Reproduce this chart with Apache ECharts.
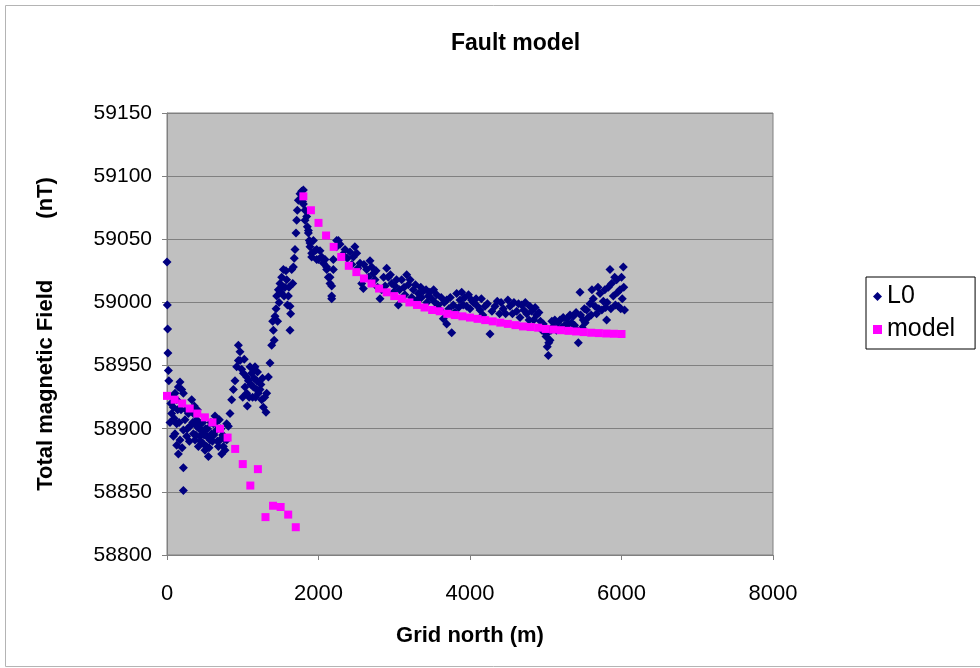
<!DOCTYPE html>
<html><head><meta charset="utf-8">
<script src="https://cdn.jsdelivr.net/npm/echarts@6/dist/echarts.min.js"></script>
<style>html,body{margin:0;padding:0;background:#fff}#c{width:980px;height:668px}</style>
</head><body><div id="c"></div>
<script>
const titleText = 'Fault model';
const xName = 'Grid north (m)';
const yName = 'Total magnetic Field          (nT)';
const seriesNames = ['L0', 'model'];
const xMin = 0, xMax = 8000, xStep = 2000;
const yMin = 58800, yMax = 59150, yStep = 50;

// L0 observed data [grid north (m), total field (nT)]
const l0Points = [
[0,59032],[4,58998],[8,58979],[12,58960],[18,58946],[24,58938],
[40,58905],[50,58920],[62,58912],[70,58925],[84,58917],[84,58894],[95,58908],[106,58928],[106,58896],
[128,58923],[128,58887],[128,58904],[140,58915],[150,58933],[150,58880],[160,58905],[172,58937],[172,58891],
[185,58915],[194,58931],[200,58885],[216,58928],[216,58869],[216,58851],[216,58899],
[238,58907],[250,58915],[260,58894],[270,58900],[282,58912],[295,58890],[304,58902],[315,58915],[326,58923],
[340,58905],[348,58912],[348,58896],[360,58918],[370,58891],[380,58895],[392,58902],[392,58907],[400,58915],
[414,58886],[425,58900],[436,58894],[436,58904],[445,58890],[458,58899],[470,58905],[480,58888],[480,58896],
[490,58895],[502,58883],[510,58900],[524,58894],[524,58886],[535,58900],[546,58878],[555,58885],[568,58891],
[580,58905],[590,58896],[600,58890],[612,58904],[620,58895],[634,58910],[645,58905],[656,58899],[665,58890],
[678,58886],[691,58907],[700,58891],[710,58900],[722,58880],[735,58895],[744,58886],[755,58892],
[766,58883],[788,58891],[788,58904],[810,58902],[832,58912],[854,58923],[876,58931],[898,58938],[920,58949],
[942,58954],[942,58966],[964,58961],[964,58954],
[986,58947],[1000,58925],[1008,58944],[1020,58955],[1030,58933],[1052,58928],[1052,58941],[1060,58918],
[1074,58938],[1085,58925],[1096,58949],[1110,58935],[1118,58944],[1130,58925],[1140,58947],[1140,58933],
[1150,58940],[1162,58949],[1170,58925],[1184,58938],[1184,58931],[1195,58945],[1206,58928],[1228,58931],
[1240,58935],[1250,58923],[1260,58940],[1272,58917],[1290,58925],[1307,58913],[1316,58928],[1338,58941],[1360,58952],
[1382,58966],[1395,58985],[1404,58978],[1415,58970],[1426,58989],[1440,58995],[1448,59005],[1460,58985],
[1470,59010],[1480,59000],[1492,59015],[1505,59008],[1514,59020],[1525,59012],[1536,59026],[1545,59005],
[1558,59012],[1570,59025],[1580,59018],[1590,58998],[1602,59005],[1610,59012],[1624,58997],[1632,58991],
[1624,58978],[1646,59026],[1660,59015],[1668,59028],[1680,59035],[1690,59042],[1703,59055],[1712,59065],
[1720,59073],[1734,59081],[1756,59086],[1778,59088],
[1790,59080],[1800,59078],[1800,59089],[1822,59073],[1822,59065],[1844,59068],[1852,59060],[1866,59057],[1866,59055],
[1879,59049],[1888,59047],[1888,59044],[1910,59039],[1910,59036],[1932,59049],[1954,59041],[1976,59034],
[1976,59042],[1998,59034],[2020,59041],[2042,59036],[2064,59031],[2064,59034],[2086,59034],[2108,59026],
[2108,59028],[2130,59020],[2152,59015],[2152,59020],[2174,59005],[2174,59013],[2174,59003],[2196,59034],
[2196,59026],[2240,59044],[2240,59049],[2262,59049],[2284,59046],
[2320,59038],[2350,59042],[2380,59035],[2416,59040],[2440,59030],[2460,59036],[2480,59044],[2504,59039],
[2520,59027],[2548,59031],[2570,59015],[2592,59011],[2600,59030],[2636,59026],[2660,59020],[2680,59033],
[2702,59028],[2724,59023],[2746,59018],[2760,59025],[2780,59012],[2812,59003],[2834,59010],[2860,59020],
[2880,59013],[2900,59027],[2922,59020],[2950,59022],[2966,59015],[2990,59008],[3010,59013],[3030,59018],
[3054,58998],[3070,59010],[3098,59018],[3130,59012],[3140,59006],[3164,59022],[3186,59014],[3210,59018],
[3230,59004],[3252,59010],[3280,59014],[3300,59002],[3318,59007],[3350,59012],[3360,59004],[3384,59009],
[3420,59010],[3430,59000],[3450,59005],[3470,59008],[3494,59003],[3520,59010],[3540,59000],[3560,59006],
[3580,58998],[3604,58994],[3620,59004],[3648,58987],[3660,59000],[3692,58983],[3692,59002],[3720,58995],
[3740,59004],[3758,58976],[3780,58998],[3800,58992],[3824,59007],[3850,58996],[3868,59002],[3890,59008],
[3910,58998],[3930,59004],[3956,58997],[3980,59006],[4000,58995],[4020,59002],[4044,59000],[4080,59003],
[4100,58997],[4132,58994],
[4150,59003],[4170,58990],[4198,58997],[4230,58999],[4264,58975],[4290,58993],[4330,58997],[4360,59001],
[4390,58991],[4410,59000],[4440,58995],[4470,58991],[4500,59002],[4528,58997],[4560,58991],[4580,59000],
[4616,58993],[4640,58999],[4660,58988],[4682,58998],[4710,58994],[4730,59000],[4748,58991],[4780,58986],
[4790,58997],[4814,58993],[4840,58986],[4860,58996],[4880,58990],[4910,58992],[4930,58985],[4950,58978],
[4968,58983],[4990,58980],[5003,58973],[5010,58975],[5020,58965],[5034,58958],[5040,58968],[5056,58970],
[5070,58978],[5080,58985],[5100,58981],[5120,58986],[5140,58978],[5160,58984],[5188,58986],[5210,58980],
[5230,58988],[5250,58982],[5276,58987],[5300,58983],[5320,58990],[5340,58984],[5364,58989],[5380,58982],
[5400,58992],[5410,58978],[5430,58968],[5452,59008],[5460,58990],[5480,58980],[5496,58986],[5510,58995],
[5520,58984],[5540,58994],[5560,58988],[5584,58999],[5600,58990],[5610,59010],[5628,59003],[5650,58997],
[5672,58991],[5690,59012],[5700,58995],[5716,59007],[5740,58994],[5760,59001],[5780,59010],[5790,58996],
[5804,58986],[5810,59000],[5826,59012],[5848,59026],[5860,58995],[5870,59015],[5892,59005],[5910,59020],
[5920,58998],[5936,59018],[5950,59008],[5958,58997],[5980,59010],[5990,58995],[6000,59020],[6010,59003],
[6024,59028],[6030,59012],[6040,58994]
];

// Model values every 100 m
const modelX = [0,100,200,300,400,500,600,700,800,900,1000,1100,1200,1300,1400,1500,1600,1700,
1800,1900,2000,2100,2200,2300,2400,2500,2600,2700,2800,2900,3000,3100,3200,3300,3400,3500,3600,3700,3800,3900,
4000,4100,4200,4300,4400,4500,4600,4700,4800,4900,5000,5100,5200,5300,5400,5500,5600,5700,5800,5900,6000];
const modelY = [58926,58923,58920,58916,58912,58909,58905,58900,58893,58884,58872,58855,58868,58830,58839,58838,58832,58822,
59084,59073,59063,59053,59044,59036,59029,59024,59019,59015,59011,59008,59005,59003,59000,58998,58996,58994,58993,58991,58990,58989,
58988,58987,58986,58985,58984,58983,58982,58981,58980.5,58980,58979,58978.5,58978,58977.5,58977,58976.5,58976,58975.7,58975.4,58975.2,58975];

const FONT = "'Liberation Sans', Arial, sans-serif";
const plain = v => String(v);
const chart = echarts.init(document.getElementById('c'), null, {renderer: 'canvas'});
chart.setOption({
  animation: false,
  backgroundColor: '#ffffff',
  graphic: [{
    type: 'rect', left: 3, top: 3, z: -10,
    shape: {x: 0, y: 0, width: 1000, height: 661},
    style: {fill: 'none', stroke: '#b4b4b4', lineWidth: 1}
  }],
  title: {
    text: titleText, left: 446, top: 27,
    textStyle: {fontFamily: FONT, fontSize: 23, fontWeight: 'bold', color: '#000'}
  },
  legend: {
    orient: 'vertical', left: 866, top: 277,
    padding: [7, 20, 7, 7], itemGap: 8,
    borderColor: '#000', borderWidth: 1,
    itemWidth: 9, itemHeight: 9,
    textStyle: {fontFamily: FONT, fontSize: 25, color: '#000'},
    data: [{name: seriesNames[0], icon: 'diamond'}, {name: seriesNames[1], icon: 'rect'}]
  },
  grid: {
    left: 167, top: 113, width: 606, height: 442,
    show: true, backgroundColor: '#c0c0c0', borderColor: '#808080', borderWidth: 1
  },
  xAxis: {
    type: 'value', min: xMin, max: xMax, interval: xStep,
    name: xName, nameLocation: 'middle', nameGap: 70,
    nameTextStyle: {fontFamily: FONT, fontSize: 22, fontWeight: 'bold', color: '#000'},
    axisLine: {show: true, onZero: false, lineStyle: {color: '#808080'}},
    axisTick: {show: true, inside: false, length: 5, lineStyle: {color: '#808080'}},
    axisLabel: {margin: 28, fontFamily: FONT, fontSize: 22, color: '#000', formatter: plain},
    splitLine: {show: false}
  },
  yAxis: {
    type: 'value', min: yMin, max: yMax, interval: yStep,
    name: yName, nameLocation: 'middle', nameGap: 110, nameRotate: 90,
    nameTextStyle: {fontFamily: FONT, fontSize: 22, fontWeight: 'bold', color: '#000'},
    axisLine: {show: true, onZero: false, lineStyle: {color: '#808080'}},
    axisTick: {show: true, inside: false, length: 5, lineStyle: {color: '#808080'}},
    axisLabel: {margin: 15, fontFamily: FONT, fontSize: 21, color: '#000', formatter: plain},
    splitLine: {show: true, lineStyle: {color: '#808080', width: 1}}
  },
  series: [
    {
      name: seriesNames[0], type: 'scatter', symbol: 'diamond', symbolSize: 9,
      itemStyle: {color: '#000080', opacity: 1},
      data: l0Points
    },
    {
      name: seriesNames[1], type: 'scatter', symbol: 'rect', symbolSize: 8,
      itemStyle: {color: '#ff00ff', opacity: 1},
      data: modelX.map((x, i) => [x, modelY[i]])
    }
  ]
});
</script>
</body></html>
